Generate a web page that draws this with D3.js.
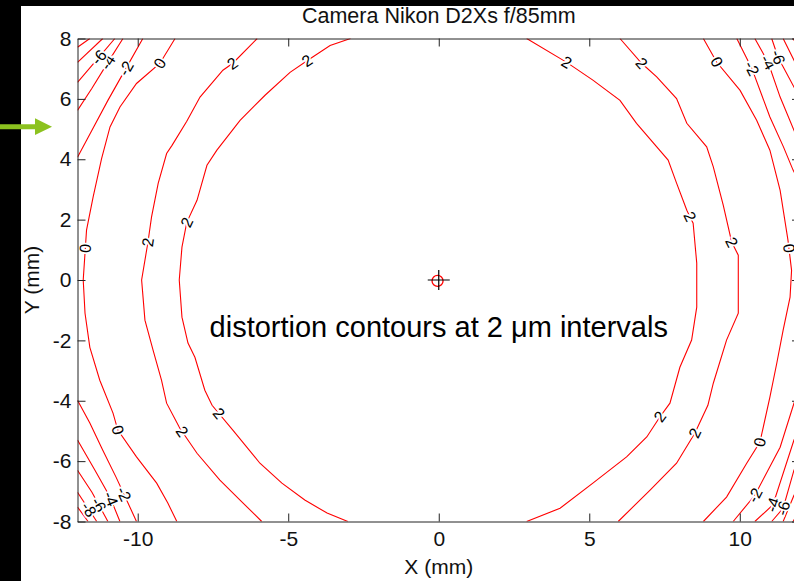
<!DOCTYPE html>
<html>
<head>
<meta charset="utf-8">
<script src="https://cdn.jsdelivr.net/npm/d3@7"></script>
<style>
  body { margin: 0; background: #000; }
  svg { display: block; }
</style>
</head>
<body>
<div id="chart"></div>
<script>
// axis ranges and ticks (mm)
const xDomain = [-12, 12];
const yDomain = [-8, 8];
const xTicks = [-10, -5, 0, 5, 10];
const yTicks = [-8, -6, -4, -2, 0, 2, 4, 6, 8];

// contour polylines, [x mm, y mm]
const c2InL = [[-2.93,8],[-3.61,7.77],[-4.35,7.28],[-4.94,6.88],[-5.77,6.12],[-6.60,5.29],[-7.37,4.30],[-7.70,3.80],[-8.03,2.64],[-8.37,1.91],[-8.53,1.09],[-8.62,0],[-8.53,-1.23],[-8.33,-2.09],[-8.10,-2.56],[-7.77,-3.65],[-7.53,-4.15],[-6.84,-4.97],[-5.94,-6.07],[-5.21,-6.73],[-4.45,-7.29],[-3.71,-7.72],[-3.02,-8]];
const c2OutL = [[-6.03,8],[-6.84,7.18],[-7.17,6.95],[-7.93,6.06],[-8.37,5.26],[-8.86,4.46],[-9.04,4.19],[-9.32,3.20],[-9.54,2.09],[-9.66,1.25],[-9.87,0],[-9.76,-1.33],[-9.49,-2.32],[-9.21,-3.32],[-9.04,-4.08],[-8.60,-4.91],[-8.03,-5.74],[-7.27,-6.63],[-6.60,-7.29],[-5.88,-8]];
const c0L = [[-8.76,8],[-9.26,7.18],[-10.04,6.51],[-10.59,5.73],[-10.92,5.07],[-11.20,4.02],[-11.48,2.75],[-11.70,1.65],[-11.81,0],[-11.75,-1.10],[-11.59,-2.23],[-11.26,-3.32],[-10.82,-4.41],[-10.66,-4.97],[-10.04,-5.86],[-9.37,-6.73],[-9.00,-7.39],[-8.70,-8]];
const c2InR = [[2.92,8],[4.25,7.21],[5.12,6.62],[6.02,5.95],[6.57,5.19],[7.62,3.97],[7.90,3.21],[8.24,2.31],[8.45,1.88],[8.57,0.56],[8.57,-0.90],[8.40,-1.99],[8.01,-2.89],[7.68,-4.08],[7.35,-4.53],[6.91,-5.20],[6.24,-5.86],[5.12,-6.73],[4.03,-7.56],[2.92,-8]];
const c2OutR = [[6.02,8],[6.74,7.18],[7.24,6.73],[7.90,6.01],[8.24,5.19],[8.90,4.41],[9.12,3.75],[9.45,2.48],[9.73,1.26],[9.95,0.82],[9.95,-1.10],[9.56,-1.99],[9.12,-3.42],[8.94,-4.15],[8.51,-5.07],[7.90,-6.07],[7.02,-6.96],[5.96,-8]];
const c0R = [[8.79,8],[9.23,7.22],[10.01,6.28],[10.56,5.29],[11.00,4.30],[11.34,2.97],[11.60,1.32],[11.72,0.32],[11.67,-0.57],[11.44,-1.66],[11.23,-2.75],[11.00,-3.88],[10.67,-5.37],[10.23,-6.07],[9.56,-7.19],[8.79,-8]];

// corner contours (negative levels)
const cm2TL = [[-9.83,8],[-10.39,7.01],[-10.99,5.95],[-11.52,4.96],[-12,4.07]];
const cm4TL = [[-10.49,8],[-10.99,7.21],[-11.52,6.35],[-12,5.62]];
const cm6TL = [[-10.76,8],[-11.32,7.34],[-12,6.55]];
const cm8TL = [[-11.16,8],[-12,7.21]];
const cm10TL = [[-11.59,8],[-12,7.71]];
const cm2BL = [[-12,-3.98],[-11.59,-4.74],[-11.16,-5.64],[-10.72,-6.53],[-10.46,-7.09],[-10.04,-8]];
const cm4BL = [[-12,-5.30],[-11.42,-6.30],[-10.92,-7.19],[-10.59,-8]];
const cm6BL = [[-12,-6.30],[-11.52,-7.03],[-10.99,-8]];
const cm8BL = [[-12,-7.03],[-11.36,-8]];
const cm10BL = [[-12,-7.52],[-11.65,-8]];
const cm2TR = [[9.90,8],[10.40,7.01],[11.00,5.40],[11.45,4.41],[11.77,3.64],[12,3.2]];
const cm4TR = [[10.50,8],[10.94,7.21],[11.34,6.06],[11.80,4.96],[12,4.46]];
const cm6TR = [[11.06,8],[11.27,7.38],[11.80,6.39],[12,6.0]];
const cm8TR = [[11.44,8],[11.80,7.28],[12,6.9]];
const cm10TR = [[11.77,8],[12,7.6]];
const cm2BR = [[12,-3.6],[11.80,-4.08],[11.34,-5.54],[10.50,-7.13],[9.78,-8]];
const cm4BR = [[12,-4.9],[11.80,-5.30],[11.10,-7.45],[10.50,-8]];
const cm6BR = [[12,-5.9],[11.80,-6.30],[11.44,-7.56],[11.06,-8]];
const cm8BR = [[12,-6.8],[11.80,-7.13],[11.44,-8]];
const cm10BR = [[12,-7.6],[11.77,-8]];

const contours = [
  {level: 2, pts: c2InL}, {level: 2, pts: c2OutL}, {level: 0, pts: c0L},
  {level: 2, pts: c2InR}, {level: 2, pts: c2OutR}, {level: 0, pts: c0R},
  {level: -2, pts: cm2TL}, {level: -4, pts: cm4TL}, {level: -6, pts: cm6TL}, {level: -8, pts: cm8TL}, {level: -10, pts: cm10TL},
  {level: -2, pts: cm2BL}, {level: -4, pts: cm4BL}, {level: -6, pts: cm6BL}, {level: -8, pts: cm8BL}, {level: -10, pts: cm10BL},
  {level: -2, pts: cm2TR}, {level: -4, pts: cm4TR}, {level: -6, pts: cm6TR}, {level: -8, pts: cm8TR}, {level: -10, pts: cm10TR},
  {level: -2, pts: cm2BR}, {level: -4, pts: cm4BR}, {level: -6, pts: cm6BR}, {level: -8, pts: cm8BR}, {level: -10, pts: cm10BR}
];

// contour labels: [text, x mm, y mm]
const labelAt = [
  ["2",-4.34,7.21],["2",-6.86,7.18],["2",-8.37,1.91],["2",-9.66,1.25],["2",-7.37,-4.47],["2",-8.60,-5.07],
  ["2",4.25,7.21],["2",6.74,7.18],["2",8.24,2.05],["2",9.73,1.25],["2",7.35,-4.53],["2",8.51,-5.07],
  ["0",-9.26,7.18],["0",-11.75,1.05],["0",-10.66,-4.97],["0",9.23,7.22],["0",11.60,1.05],["0",10.67,-5.37],
  ["-2",-10.39,7.01],["-4",-10.99,7.21],["-6",-11.32,7.40],
  ["-2",-10.46,-7.09],["-4",-10.92,-7.26],["-6",-11.32,-7.46],["-8",-11.65,-7.62],
  ["-2",10.40,7.01],["-4",10.94,7.21],["-6",11.27,7.38],
  ["-2",10.50,-7.13],["-4",11.10,-7.45],["-6",11.44,-7.56]
];

const principalPoint = [-0.04, -0.03];
const origin = [0, 0];
const noteAt = [0, -1.89];
const noteText = "distortion contours at 2 \u03bcm intervals";
const title = "Camera Nikon D2Xs f/85mm";

const W = 794, H = 581;
const plot = {left: 77.5, right: 800, top: 38.5, bottom: 521.5};
const font = "'Liberation Sans', Arial, Helvetica, sans-serif";

const svg = d3.select("#chart").append("svg").attr("width", W).attr("height", H);
svg.append("rect").attr("width", W).attr("height", H).attr("fill", "#000");
svg.append("rect").attr("x", 21).attr("y", 6).attr("width", W - 21).attr("height", H - 6).attr("fill", "#fff");

const x = d3.scaleLinear().domain(xDomain).range([plot.left, plot.right]);
const y = d3.scaleLinear().domain(yDomain).range([plot.bottom, plot.top]);

svg.append("clipPath").attr("id", "clip").append("rect")
  .attr("x", plot.left).attr("y", plot.top)
  .attr("width", plot.right - plot.left).attr("height", plot.bottom - plot.top);

const line = d3.line().x(d => x(d[0])).y(d => y(d[1]));
const gC = svg.append("g").attr("clip-path", "url(#clip)");
gC.selectAll("path.contour").data(contours).enter().append("path")
  .attr("class", "contour")
  .attr("d", d => line(d.pts))
  .attr("fill", "none").attr("stroke", "#ff0000").attr("stroke-width", 1.1);

// put each label on its nearest contour segment, turned along it
function placeLabel(lab) {
  const lvl = +lab[0];
  const px = x(lab[1]), py = y(lab[2]);
  let best = null;
  contours.filter(c => c.level === lvl).forEach(c => {
    for (let i = 0; i < c.pts.length - 1; i++) {
      const ax = x(c.pts[i][0]), ay = y(c.pts[i][1]);
      const bx = x(c.pts[i+1][0]), by = y(c.pts[i+1][1]);
      const dx = bx - ax, dy = by - ay, len2 = dx*dx + dy*dy;
      let t = len2 ? ((px - ax)*dx + (py - ay)*dy) / len2 : 0;
      t = Math.max(0, Math.min(1, t));
      const qx = ax + t*dx, qy = ay + t*dy;
      const dist = (px - qx)**2 + (py - qy)**2;
      if (!best || dist < best.dist) best = {dist, qx, qy, ang: Math.atan2(dy, dx) * 180 / Math.PI};
    }
  });
  let a = best.ang;
  if (a > 90) a -= 180;
  if (a < -90) a += 180;
  return {text: lab[0], x: best.qx, y: best.qy, a};
}

gC.selectAll("text.clabel").data(labelAt.map(placeLabel)).enter().append("text")
  .attr("class", "clabel")
  .attr("transform", d => `translate(${d.x},${d.y}) rotate(${d.a})`)
  .attr("text-anchor", "middle").attr("dominant-baseline", "central")
  .attr("font-family", font).attr("font-size", 16)
  .attr("fill", "#000").attr("stroke", "#fff").attr("stroke-width", 3.5)
  .attr("paint-order", "stroke")
  .text(d => d.text);

// principal point marker
svg.append("circle").attr("cx", x(principalPoint[0])).attr("cy", y(principalPoint[1])).attr("r", 5.5)
  .attr("fill", "none").attr("stroke", "#ff0000").attr("stroke-width", 1.3);
svg.append("path")
  .attr("d", `M${x(origin[0]) - 11},${y(origin[1])}h22M${x(origin[0])},${y(origin[1]) - 10}v20`)
  .attr("stroke", "#000").attr("stroke-width", 1.2);

svg.append("text").attr("x", x(noteAt[0])).attr("y", y(noteAt[1]))
  .attr("text-anchor", "middle").attr("font-family", font).attr("font-size", 29)
  .attr("fill", "#000").text(noteText);

// axes, ticks inside, box all round
function styleAxis(g) {
  g.attr("font-size", 21).attr("font-family", font).attr("color", "#222");
  g.selectAll("text").attr("fill", "#111");
}
svg.append("g").attr("transform", `translate(0,${plot.bottom})`)
  .call(d3.axisBottom(x).tickValues(xTicks).tickSizeInner(-8).tickSizeOuter(0).tickPadding(10).tickFormat(d => String(d)))
  .call(styleAxis);
svg.append("g").attr("transform", `translate(0,${plot.top})`)
  .call(d3.axisTop(x).tickValues(xTicks).tickSizeInner(-8).tickSizeOuter(0).tickFormat(""))
  .call(styleAxis);
svg.append("g").attr("transform", `translate(${plot.left},0)`)
  .call(d3.axisLeft(y).tickValues(yTicks).tickSizeInner(-8).tickSizeOuter(0).tickPadding(6).tickFormat(d => String(d)))
  .call(styleAxis);
svg.append("g").attr("transform", `translate(${plot.right},0)`)
  .call(d3.axisRight(y).tickValues(yTicks).tickSizeInner(-8).tickSizeOuter(0).tickFormat(""))
  .call(styleAxis);

const midX = (plot.left + plot.right) / 2;
svg.append("text").attr("x", midX).attr("y", 23).attr("text-anchor", "middle")
  .attr("font-family", font).attr("font-size", 21.5).attr("fill", "#111").text(title);
svg.append("text").attr("x", midX).attr("y", 574).attr("text-anchor", "middle")
  .attr("font-family", font).attr("font-size", 21).attr("fill", "#111").text("X (mm)");
svg.append("text").attr("transform", `translate(39,${(plot.top + plot.bottom) / 2}) rotate(-90)`)
  .attr("text-anchor", "middle").attr("font-family", font).attr("font-size", 21)
  .attr("fill", "#111").text("Y (mm)");

// black frame strip on the left covers part of the y label
svg.append("rect").attr("x", 0).attr("y", 0).attr("width", 21).attr("height", H).attr("fill", "#000");

// green pointer arrow
svg.append("line").attr("x1", 0).attr("x2", 37).attr("y1", 126.7).attr("y2", 126.7)
  .attr("stroke", "#8cc21f").attr("stroke-width", 5);
svg.append("path").attr("d", "M35,118.3L52,126.7L35,135Z").attr("fill", "#8cc21f");
</script>
</body>
</html>
